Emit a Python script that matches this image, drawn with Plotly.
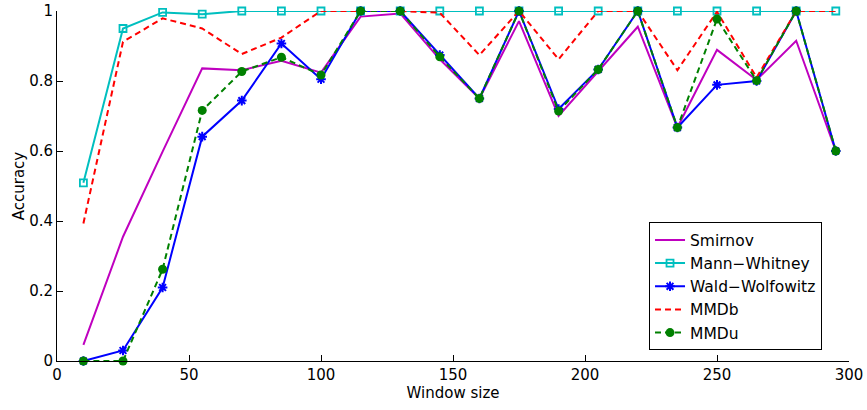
import plotly.graph_objects as go

window_size = [10, 25, 40, 55, 70, 85, 100, 115, 130, 145, 160, 175, 190, 205, 220, 235, 250, 265, 280, 295]
smirnov = [0.046, 0.355, 0.598, 0.836, 0.831, 0.858, 0.824, 0.984, 0.993, 0.862, 0.75, 0.971, 0.70, 0.827, 0.955, 0.667, 0.889, 0.803, 0.915, 0.60]
mann_whitney = [0.509, 0.950, 0.996, 0.991, 1, 1, 1, 1, 1, 1, 1, 1, 1, 1, 1, 1, 1, 1, 1, 1]
wald_wolfowitz = [0.0, 0.03, 0.21, 0.641, 0.744, 0.907, 0.805, 1, 1, 0.874, 0.75, 1, 0.72, 0.833, 1, 0.667, 0.789, 0.80, 1, 0.60]
mmdb = [0.393, 0.912, 0.979, 0.95, 0.877, 0.924, 1, 1, 1, 0.995, 0.874, 1, 0.862, 1, 1, 0.831, 0.998, 0.81, 1, 1]
mmdu = [0.0, 0.0, 0.262, 0.716, 0.827, 0.868, 0.817, 1, 1, 0.869, 0.75, 1, 0.714, 0.833, 1, 0.667, 0.977, 0.801, 1, 0.60]

x_ticks = [0, 50, 100, 150, 200, 250, 300]
y_ticks = [0, 0.2, 0.4, 0.6, 0.8, 1]
y_tick_labels = ["0", "0.2", "0.4", "0.6", "0.8", "1"]

FONT = "DejaVu Sans, Liberation Sans, Arial, sans-serif"
LW = 2

fig = go.Figure()
fig.add_trace(go.Scatter(x=window_size, y=smirnov, name="Smirnov", mode="lines",
                         line=dict(color="#BF00BF", width=LW), cliponaxis=False))
fig.add_trace(go.Scatter(x=window_size, y=mann_whitney, name="Mann\u2212Whitney", mode="lines+markers",
                         line=dict(color="#00BFBF", width=LW),
                         marker=dict(symbol="square-open", size=7, color="#00BFBF", line=dict(width=1.8)),
                         cliponaxis=False))
fig.add_trace(go.Scatter(x=window_size, y=wald_wolfowitz, name="Wald\u2212Wolfowitz", mode="lines+markers",
                         line=dict(color="#0000FF", width=LW),
                         marker=dict(symbol="asterisk-open", size=8, color="#0000FF", line=dict(width=2, color="#0000FF")),
                         cliponaxis=False))
fig.add_trace(go.Scatter(x=window_size, y=mmdb, name="MMDb", mode="lines",
                         line=dict(color="#FF0000", width=LW, dash="6px,4px"), cliponaxis=False))
fig.add_trace(go.Scatter(x=window_size, y=mmdu, name="MMDu", mode="lines+markers",
                         line=dict(color="#008000", width=LW, dash="6px,4px"),
                         marker=dict(symbol="circle", size=9, color="#008000"),
                         cliponaxis=False))

fig.update_layout(
    width=867, height=410,
    margin=dict(l=57, r=18, t=11, b=49, autoexpand=False),
    paper_bgcolor="white", plot_bgcolor="white",
    font=dict(family=FONT, size=15, color="black"),
    showlegend=True,
    legend=dict(x=0.7475, y=0.396, xanchor="left", yanchor="top",
                bgcolor="white", bordercolor="black", borderwidth=1,
                font=dict(family=FONT, size=15.5, color="black"),
                tracegroupgap=0, itemwidth=30),
    xaxis=dict(range=[0, 300], tickvals=x_ticks, ticks="inside", ticklen=6, tickcolor="black",
               showline=True, linecolor="black", linewidth=1, showgrid=False, zeroline=False,
               automargin=False,
               title=dict(text="Window size", font=dict(family=FONT, size=15), standoff=2),
               tickfont=dict(family=FONT, size=15)),
    yaxis=dict(range=[0, 1], tickvals=y_ticks, ticktext=y_tick_labels, ticks="inside", ticklen=6, tickcolor="black",
               showline=True, linecolor="black", linewidth=1, showgrid=False, zeroline=False,
               automargin=False,
               title=dict(text="Accuracy", font=dict(family=FONT, size=15), standoff=0),
               tickfont=dict(family=FONT, size=15)),
)

fig.write_html("out.html", config={"displayModeBar": False},
               post_script="document.body.style.margin='0';document.body.style.padding='0';")
